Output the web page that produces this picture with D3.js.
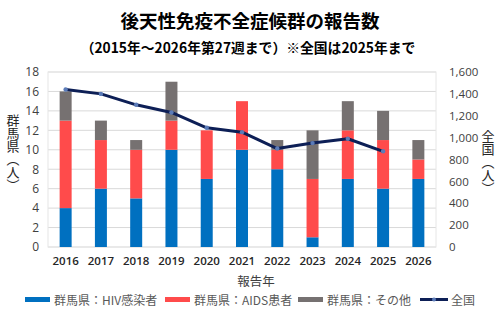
<!DOCTYPE html>
<meta charset="utf-8">
<head>
	<title>後天性免疫不全症候群の報告数</title>
</head>
<style>
body{
	margin: 0;
	background: #fff;
}
svg text{
	font-family: "Noto Sans CJK JP", "Noto Sans", sans-serif;
}
.vtitle{
	writing-mode: vertical-rl;
}
</style>
<body>
<svg id="chart" width="500" height="320"></svg>

<script src="https://cdnjs.cloudflare.com/ajax/libs/d3/7.8.5/d3.min.js"></script>
<script>

// データ
var years = ['2016', '2017', '2018', '2019', '2020', '2021', '2022', '2023', '2024', '2025', '2026'];
var hiv   = [4, 6, 5, 10, 7, 10, 8, 1, 7, 6, 7];
var aids  = [9, 5, 5, 3, 5, 5, 2, 6, 5, 5, 2];
var other = [3, 2, 1, 4, 0, 0, 1, 5, 3, 3, 2];
var zenkoku = [1440, 1400, 1300, 1230, 1090, 1050, 900, 950, 990, 875]; // 2016〜2025
var leftTicks = [0, 2, 4, 6, 8, 10, 12, 14, 16, 18];
var rightTicks = [0, 200, 400, 600, 800, 1000, 1200, 1400, 1600];

var seriesNames = ['群馬県：HIV感染者', '群馬県：AIDS患者', '群馬県：その他'];
var colors = ['#0070c0', '#ff4b4b', '#767171'];
var lineColor = '#0d1f56';

var svg = d3.select('#chart');
var m = {left: 48, right: 64, top: 72, bottom: 73};
var W = 500, H = 320;

var x = d3.scaleBand()
	.domain(years)
	.range([m.left, W - m.right])
	.paddingInner(0.66)
	.paddingOuter(0.33);

var yL = d3.scaleLinear().domain([0, 18]).range([H - m.bottom, m.top]);
var yR = d3.scaleLinear().domain([0, 1600]).range([H - m.bottom, m.top]);

// タイトル
svg.append('text')
	.attr('x', 250).attr('y', 28)
	.attr('text-anchor', 'middle')
	.style('font-size', '18.5px')
	.style('font-weight', 'bold')
	.attr('fill', '#000')
	.text('後天性免疫不全症候群の報告数');

svg.append('text')
	.attr('x', 248).attr('y', 53)
	.attr('text-anchor', 'middle')
	.style('font-size', '13.8px')
	.style('font-weight', 'bold')
	.attr('fill', '#000')
	.text('（2015年～2026年第27週まで）※全国は2025年まで');

// グリッド
svg.append('g')
	.selectAll('line')
	.data(leftTicks)
	.join('line')
	.attr('x1', m.left).attr('x2', W - m.right)
	.attr('y1', function(d){ return yL(d); })
	.attr('y2', function(d){ return yL(d); })
	.attr('stroke', '#d9d9d9')
	.attr('stroke-width', 1);

svg.append('rect')
	.attr('x', m.left).attr('y', m.top)
	.attr('width', W - m.right - m.left)
	.attr('height', H - m.bottom - m.top)
	.attr('fill', 'none')
	.attr('stroke', '#e6e6e6');

// 左軸
var axL = svg.append('g')
	.attr('transform', 'translate(' + m.left + ',0)')
	.call(d3.axisLeft(yL).tickValues(leftTicks).tickSize(0).tickPadding(9));
axL.select('.domain').remove();
axL.selectAll('text')
	.style('font-size', '12px')
	.style('font-family', '"Open Sans", "Noto Sans", sans-serif')
	.attr('fill', '#404040');

// 右軸
var axR = svg.append('g')
	.attr('transform', 'translate(' + (W - m.right) + ',0)')
	.call(d3.axisRight(yR).tickValues(rightTicks).tickSize(0).tickPadding(13).tickFormat(d3.format(',')));
axR.select('.domain').remove();
axR.selectAll('text')
	.style('font-size', '11.5px')
	.style('font-family', '"Open Sans", "Noto Sans", sans-serif')
	.attr('fill', '#404040');

// X軸
var axX = svg.append('g')
	.attr('transform', 'translate(0,' + (H - m.bottom) + ')')
	.call(d3.axisBottom(x).tickSize(0).tickPadding(10));
axX.select('.domain').remove();
axX.selectAll('text')
	.style('font-size', '11.5px')
	.style('font-weight', '600')
	.style('font-family', '"Open Sans", "Noto Sans", sans-serif')
	.attr('fill', '#262626');

svg.append('text')
	.attr('x', 256).attr('y', 286)
	.attr('text-anchor', 'middle')
	.style('font-size', '12.5px')
	.attr('fill', '#404040')
	.text('報告年');

// 軸タイトル（縦書き）
svg.append('text')
	.attr('class', 'vtitle')
	.attr('x', 13).attr('y', 153)
	.attr('text-anchor', 'middle')
	.style('font-size', '13px')
	.attr('fill', '#262626')
	.text('群馬県（人）');

svg.append('text')
	.attr('class', 'vtitle')
	.attr('x', 488).attr('y', 162)
	.attr('text-anchor', 'middle')
	.style('font-size', '13px')
	.attr('fill', '#262626')
	.text('全国（人）');

// 積み上げ棒
var rows = years.map(function(y, i){
	return {year: y, hiv: hiv[i], aids: aids[i], other: other[i]};
});
var stacked = d3.stack().keys(['hiv', 'aids', 'other'])(rows);

svg.append('g')
	.selectAll('g')
	.data(stacked)
	.join('g')
	.attr('fill', function(d, i){ return colors[i]; })
	.selectAll('rect')
	.data(function(d){ return d; })
	.join('rect')
	.attr('x', function(d){ return x(d.data.year); })
	.attr('width', x.bandwidth())
	.attr('y', function(d){ return yL(d[1]); })
	.attr('height', function(d){ return yL(d[0]) - yL(d[1]); });

// 全国の折れ線
var lineData = zenkoku.map(function(v, i){ return {year: years[i], v: v}; });
var line = d3.line()
	.x(function(d){ return x(d.year) + x.bandwidth() / 2; })
	.y(function(d){ return yR(d.v); });

svg.append('path')
	.datum(lineData)
	.attr('d', line)
	.attr('fill', 'none')
	.attr('stroke', lineColor)
	.attr('stroke-width', 3)
	.attr('stroke-linejoin', 'round');

svg.append('g')
	.selectAll('circle')
	.data(lineData)
	.join('circle')
	.attr('cx', function(d){ return x(d.year) + x.bandwidth() / 2; })
	.attr('cy', function(d){ return yR(d.v); })
	.attr('r', 2.2)
	.attr('fill', '#5b7bb8');

// 凡例
var legend = svg.append('g').attr('transform', 'translate(0,301)');
var items = [
	{name: seriesNames[0], color: colors[0], x: 25, type: 'bar'},
	{name: seriesNames[1], color: colors[1], x: 165, type: 'bar'},
	{name: seriesNames[2], color: colors[2], x: 298, type: 'bar'},
	{name: '全国', color: lineColor, x: 420, type: 'line'}
];
items.forEach(function(it){
	if (it.type === 'bar') {
		legend.append('rect')
			.attr('x', it.x).attr('y', -4)
			.attr('width', 25).attr('height', 5)
			.attr('fill', it.color);
	} else {
		legend.append('line')
			.attr('x1', it.x).attr('x2', it.x + 28)
			.attr('y1', -1.5).attr('y2', -1.5)
			.attr('stroke', it.color).attr('stroke-width', 3);
		legend.append('circle')
			.attr('cx', it.x + 14).attr('cy', -1.5).attr('r', 2)
			.attr('fill', '#5b7bb8');
	}
	legend.append('text')
		.attr('x', it.x + (it.type === 'bar' ? 29 : 31))
		.attr('y', 3.5)
		.style('font-size', '12px')
		.attr('fill', '#595959')
		.text(it.name);
});

</script>
</body>
</html>
